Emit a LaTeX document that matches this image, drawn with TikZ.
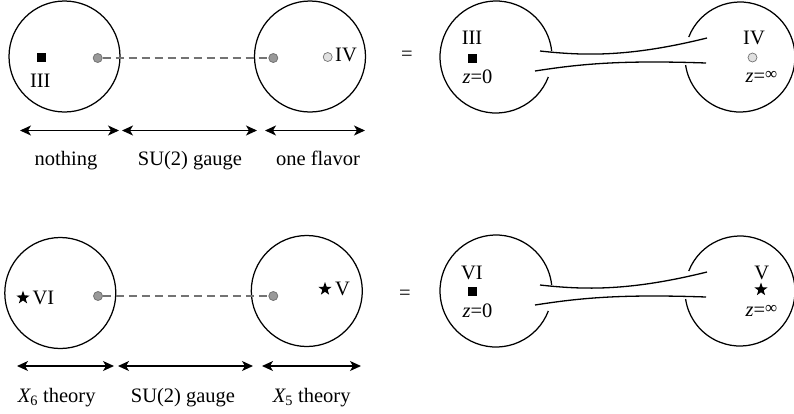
\documentclass[tikz,border=0pt]{standalone}
\usepackage{fontspec}
\setmainfont{Liberation Serif}
\usetikzlibrary{arrows.meta,shapes.geometric}
\begin{document}
\begin{tikzpicture}[x=1pt,y=-1pt,
  lbl/.style={inner sep=0pt, font=\fontsize{20.5}{24}\selectfont},
  sq/.style={rectangle, fill=black, draw=none, minimum size=9pt, inner sep=0pt},
  gdot/.style={circle, fill=black!40, draw=black!55, line width=0.8pt, minimum size=9pt, inner sep=0pt},
  ldot/.style={circle, fill=black!12, draw=black!55, line width=0.7pt, minimum size=9pt, inner sep=0pt},
  starm/.style={star, star points=5, star point ratio=2.5, fill=black, draw=none, minimum size=14pt, inner sep=0pt},
  span/.style={{Stealth[length=11pt,width=10pt,inset=3pt]}-{Stealth[length=11pt,width=10pt,inset=3pt]}, line width=1.3pt},
  gauge/.style={dash pattern=on 8pt off 5pt, draw=black!55, line width=1.4pt},
  bubble/.style={line width=1.25pt},
  tube/.style={line width=1.3pt},
  inf/.style={font=\fontsize{15}{15}\selectfont}
]
\useasboundingbox (0,0) rectangle (794,413);

% ---------------- top left ----------------
\node[draw, circle, bubble, minimum size=111pt, inner sep=0pt] (c1) at (64.5,56.5) {};
\node[draw, circle, bubble, minimum size=111pt, inner sep=0pt] (c2) at (310,56.5) {};
\node[sq] (s1) at (41,57.3) {};
\node[lbl] (l1) at (40.3,81) {III};
\node[gdot] (g1) at (97.7,58) {};
\node[gdot] (g2) at (273.3,58) {};
\draw[gauge] (g1) -- (g2);
\node[ldot] (d1) at (327.7,57) {};
\node[lbl] (l2) at (346,55) {IV};

\coordinate (a1) at (20,130.5);
\coordinate (a2) at (119,130.5);
\coordinate (a3) at (122,130.5);
\coordinate (a4) at (257,130.5);
\coordinate (a5) at (265,130.5);
\coordinate (a6) at (365,130.5);
\draw[span] (a1) -- (a2);
\draw[span] (a3) -- (a4);
\draw[span] (a5) -- (a6);
\node[lbl, anchor=base] (t1) at (66,165) {nothing};
\node[lbl, anchor=base] (t2) at (190,165) {SU(2) gauge};
\node[lbl, anchor=base] (t3) at (318,165) {one flavor};

\node[lbl] (eq1) at (407,56) {=};

% ---------------- top right ----------------
\draw[bubble] (496,57) ++(20.9:56) arc[start angle=20.9, end angle=353.9, radius=56];
\draw[bubble] (740,57) ++(201.3:55) arc[start angle=201.3, end angle=531.6, radius=55];
\draw[tube] (540,51) .. controls (585,56) and (630,57) .. (707,38);
\draw[tube] (535,71) .. controls (580,64) and (620,60) .. (706,63);
\node[lbl] (l3) at (472,37.5) {III};
\node[sq] (s2) at (472.5,58) {};
\node[lbl] (z1) at (477.5,77) {{\itshape z}=0};
\node[lbl] (l4) at (754,37.5) {IV};
\node[ldot] (d2) at (752.5,57.5) {};
\node[lbl] (z2) at (761.5,77) {{\itshape z}={\raisebox{0.35ex}{\fontsize{17}{17}\selectfont ∞}}};

% ---------------- bottom left ----------------
\node[draw, circle, bubble, minimum size=111pt, inner sep=0pt] (c3) at (60.3,293) {};
\node[draw, circle, bubble, minimum size=111pt, inner sep=0pt] (c4) at (306.8,291) {};
\node[starm] (st1) at (23,297.7) {};
\node[lbl] (l5) at (43.5,297.5) {VI};
\node[gdot] (g3) at (98,296) {};
\node[gdot] (g4) at (273.3,296) {};
\draw[gauge] (g3) -- (g4);
\node[starm] (st2) at (325,289) {};
\node[lbl] (l6) at (342.5,289) {V};

\coordinate (b1) at (17,366);
\coordinate (b2) at (114,366);
\coordinate (b3) at (118,366);
\coordinate (b4) at (253,366);
\coordinate (b5) at (262,366);
\coordinate (b6) at (361,366);
\draw[span] (b1) -- (b2);
\draw[span] (b3) -- (b4);
\draw[span] (b5) -- (b6);
\node[lbl, anchor=base] (t4) at (56.7,402.5) {{\itshape X}\textsubscript{6} theory};
\node[lbl, anchor=base] (t5) at (183,402.5) {SU(2) gauge};
\node[lbl, anchor=base] (t6) at (311.7,402.5) {{\itshape X}\textsubscript{5} theory};

\node[lbl] (eq2) at (405,295) {=};

% ---------------- bottom right ----------------
\draw[bubble] (496,291) ++(20.9:56) arc[start angle=20.9, end angle=353.9, radius=56];
\draw[bubble] (740,291) ++(201.3:55) arc[start angle=201.3, end angle=531.6, radius=55];
\draw[tube] (540,285) .. controls (585,290) and (630,291) .. (707,272);
\draw[tube] (535,305) .. controls (580,298) and (620,294) .. (706,297);
\node[lbl] (l7) at (472,272.5) {VI};
\node[sq] (s3) at (472.5,291) {};
\node[lbl] (z3) at (477.5,311) {{\itshape z}=0};
\node[lbl] (l8) at (761.7,272.5) {V};
\node[starm] (st3) at (761,289.5) {};
\node[lbl] (z4) at (761.5,311) {{\itshape z}={\raisebox{0.35ex}{\fontsize{17}{17}\selectfont ∞}}};
\end{tikzpicture}
\end{document}
